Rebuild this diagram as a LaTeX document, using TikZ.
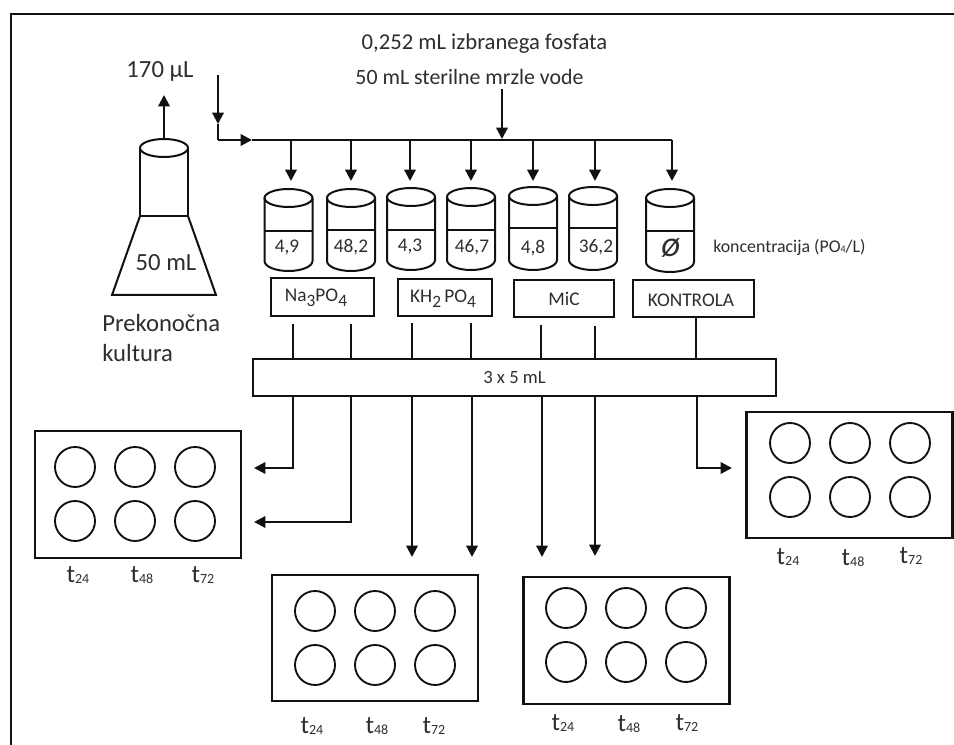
\documentclass[tikz,border=0pt]{standalone}
\usepackage{fontspec}
\setmainfont{Carlito}
\usetikzlibrary{arrows.meta}
\definecolor{ink}{HTML}{111111}
\definecolor{txt}{HTML}{2E2E2E}
\newcommand{\fs}[1]{\fontsize{#1}{#1}\selectfont}
\newcommand{\tlab}[1]{t\raisebox{-0.5pt}{\fs{10.5}#1}}
\newcommand{\chemsub}[1]{\raisebox{-3.5pt}{#1}}
\tikzset{
  x=0.75pt,y=-0.75pt,
  lin/.style={draw=ink,line width=1.7pt},
  thin lin/.style={draw=ink,line width=1.5pt},
  arr/.style={lin,-{Triangle[length=8.5pt,width=8.5pt]}},
  box/.style={rectangle,draw=ink,line width=1.7pt,inner sep=0pt,text=txt,font=\fs{14.5}},
  txtn/.style={inner sep=0pt,text=txt,font=\fs{14.5},align=left},
  plate/.style={rectangle,draw=ink,line width=1.7pt,inner sep=0pt,minimum width=154.5pt,minimum height=95pt},
  well/.style={circle,draw=ink,line width=1.4pt,inner sep=0pt,minimum size=30pt},
  tl/.style={inner sep=0pt,text=txt,font=\fs{19}},
}
% #1 name prefix, #2 cx, #3 top ellipse cy, #4 liquid y, #5 side bottom y, #6 label, #7 label x, #8 label y
\newcommand{\beaker}[8]{
  \draw[thin lin] (#2,#3) ellipse [x radius=24,y radius=9];
  \draw[thin lin] (#2-24,#3) -- (#2-24,#5) arc [start angle=180,end angle=360,x radius=24,y radius=-10] -- (#2+24,#3);
  \draw[thin lin] (#2-24,#4) -- (#2+24,#4);
  \node[txtn] (#1) at (#7,#8) {#6};
}
% #1 prefix, #2 cx, #3 cy, #4 circle y1, #5 y2, #6 circle x0
\newcommand{\wellplate}[6]{
  \node[plate] (#1) at (#2,#3) {};
  \foreach \i/\dx in {a/0,b/60,c/120}{
    \node[well] (#1\i1) at (#6+\dx,#4) {};
    \node[well] (#1\i2) at (#6+\dx,#5) {};
  }
}
\begin{document}
\begin{tikzpicture}
\useasboundingbox (0,0) rectangle (954,745);
\fill[white] (0,0) rectangle (954,745);
% outer frame
\coordinate (fa) at (11,745); \coordinate (fb) at (11,14); \coordinate (fc) at (954,14);
\draw[lin] (fa) -- (fb) -- (fc);
% flask
\draw[thin lin] (164,148) ellipse [x radius=24,y radius=9];
\draw[thin lin] (140,148) -- (140,216) -- (188,216) -- (188,148);
\draw[thin lin] (140,216) -- (112,295) -- (216,295) -- (188,216);
\node[txtn,font=\fs{18.5}] (flaskvol) at (166,263) {50 mL};
\coordinate (flasktop) at (164,139);
\coordinate (flaskout) at (164,95);
\draw[arr] (flasktop) -- (flaskout);
\node[txtn,font=\fs{18.5}] (vol) at (160,71) {170 µL};
\node[txtn,font=\fs{18.5},anchor=west] (prek) at (102,323) {Prekonočna};
\node[txtn,font=\fs{18.5},anchor=west] (kult) at (102,353) {kultura};
% top text
\node[txtn,font=\fs{17}] (fosfat) at (484.5,44) {0,252 mL izbranega fosfata};
\node[txtn,font=\fs{16.4}] (voda) at (469.5,77) {50 mL sterilne mrzle vode};
% feed line
\coordinate (s0) at (218,75); \coordinate (s1) at (218,124); \coordinate (s2) at (218,140);
\coordinate (s3) at (252,140); \coordinate (s4) at (672,140);
\draw[arr] (s0) -- (s1);
\draw[lin] (s1) -- (s2);
\draw[arr] (s2) -- (s3);
\draw[lin] (s3) -- (s4);
\coordinate (w0) at (502,89); \coordinate (w1) at (502,139);
\draw[arr] (w0) -- (w1);
\foreach \n/\x in {d1/291,d2/351,d3/410,d4/471,d5/533,d6/595,d7/672}{
  \coordinate (\n t) at (\x,140); \coordinate (\n b) at (\x,181);
  \draw[arr] (\n t) -- (\n b);
}
% beakers
\beaker{b1}{288.5}{198}{231}{261}{4,9}{287}{247}
\beaker{b2}{351}{198}{230}{261}{48,2}{351}{247}
\beaker{b3}{411}{197}{230}{260}{4,3}{410}{246}
\beaker{b4}{471}{197}{230}{260}{46,7}{472}{247}
\beaker{b5}{533}{196}{228}{260}{4,8}{533}{248}
\beaker{b6}{593}{196}{228}{260}{36,2}{596}{247}
\beaker{b7}{670}{198}{231}{262}{\fs{27}\itshape ø}{671}{248}
\node[txtn,font=\fs{13.4},anchor=west] (konc) at (713,247) {koncentracija (PO\raisebox{-0.5pt}{\fs{7.5}4}/L)};
% label boxes
\node[box,minimum width=77.5pt,minimum height=28.5pt] (na) at (322.5,297) {};
\node[txtn] (natxt) at (316,298) {Na\chemsub{\fs{13}3}PO\chemsub{\fs{13}4}};
\node[box,minimum width=70.5pt,minimum height=28pt] (kh) at (445,297.5) {};
\node[txtn] (khtxt) at (443,299) {KH\chemsub{\fs{13}2}\,PO\chemsub{\fs{13}4}};
\node[box,minimum width=75pt,minimum height=28pt] (mic) at (564,298.5) {MiC};
\node[box,minimum width=91pt,minimum height=28pt] (kon) at (693.5,298.5) {};
\node[txtn] (kontxt) at (691,300) {KONTROLA};
% wide box
\node[box,minimum width=392pt,minimum height=27.5pt,font=\fs{14}] (wide) at (514.5,377.5) {3 x 5 mL};
% links to wide box
\foreach \n/\x/\y in {u1/293/324,u2/351/324,u3/412/323,u4/471/323,u5/541/325,u6/595/326}{
  \coordinate (\n) at (\x,\y);
  \draw[lin] (\n) -- (\n |- wide.north);
}
\draw[lin] (696,316) -- (696,359);
% plates
\wellplate{pL}{138}{494.5}{467}{521}{75}
\wellplate{pM}{375}{638}{611}{665}{315}
\wellplate{pB}{626.5}{640.5}{608}{662}{566}
\wellplate{pR}{849.5}{475}{443}{497}{790}
% plate labels
\foreach \n/\x/\y/\t in {la/78/575/24,lb/142/575/48,lc/203/575/72,
  ma/312/726/24,mb/377/726/48,mc/434/726/72,
  ba/563/723/24,bb/629/724/48,bc/687/723/72,
  ra/788/557/24,rb/853/558/48,rc/911/556/72}{
  \node[tl] (\n) at (\x,\y) {\tlab{\t}};
}
% outlets
\coordinate (o1) at (293,396); \coordinate (o1a) at (293,468); \coordinate (o1b) at (254,468);
\draw[arr] (o1) -- (o1a) -- (o1b);
\coordinate (o2) at (351,396); \coordinate (o2a) at (351,522); \coordinate (o2b) at (254,522);
\draw[arr] (o2) -- (o2a) -- (o2b);
\coordinate (o3) at (412,396); \coordinate (o3a) at (412,557);
\draw[arr] (o3) -- (o3a);
\coordinate (o4) at (472,396); \coordinate (o4a) at (472,557);
\draw[arr] (o4) -- (o4a);
\coordinate (o5) at (542,396); \coordinate (o5a) at (542,557);
\draw[arr] (o5) -- (o5a);
\coordinate (o6) at (595,396); \coordinate (o6a) at (595,556);
\draw[arr] (o6) -- (o6a);
\coordinate (o7) at (697,396); \coordinate (o7a) at (697,468); \coordinate (o7b) at (732,468);
\draw[arr] (o7) -- (o7a) -- (o7b);
\end{tikzpicture}
\end{document}
